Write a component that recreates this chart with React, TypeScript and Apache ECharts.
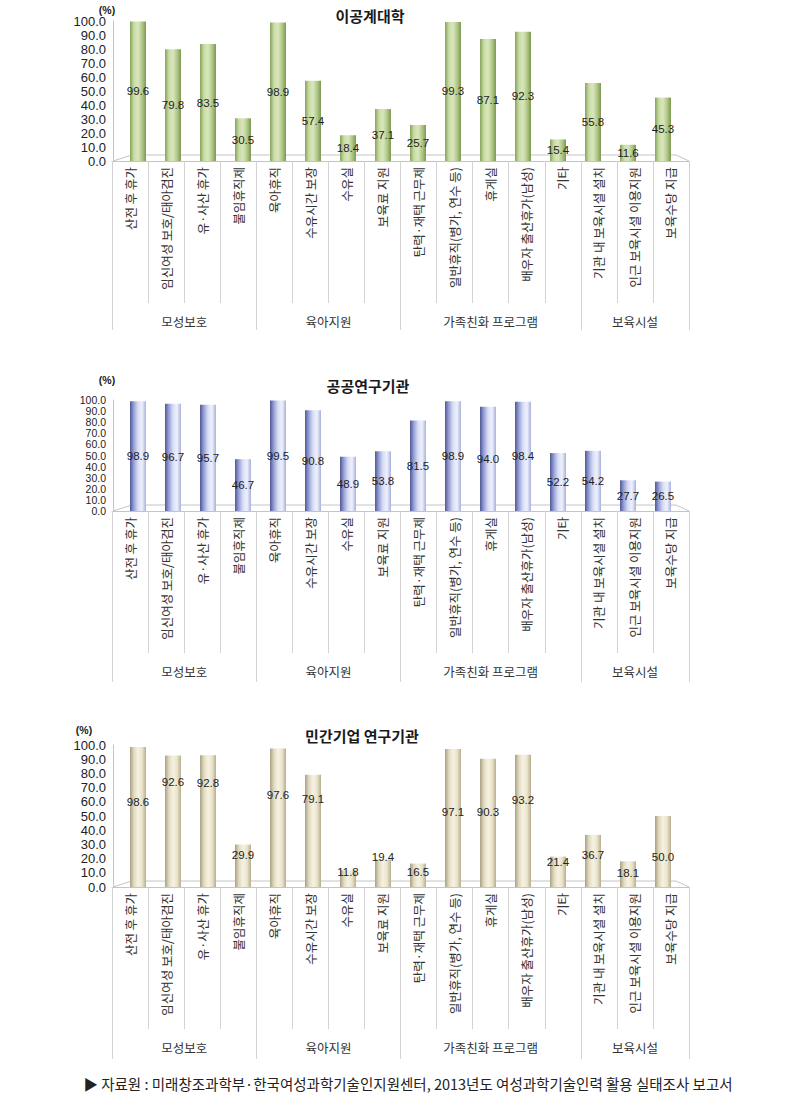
import React, { useEffect, useRef } from "react";
import * as echarts from "echarts";

const categories = [
  "산전 후 휴가",
  "임신여성 보호/태아검진",
  "유·사산 휴가",
  "불임휴직제",
  "육아휴직",
  "수유시간 보장",
  "수유실",
  "보육료 지원",
  "탄력·재택 근무제",
  "일반휴직(병가, 연수 등)",
  "휴게실",
  "배우자 출산휴가(남성)",
  "기타",
  "기관 내 보육시설 설치",
  "인근 보육시설 이용지원",
  "보육수당 지급",
];
const groups = ["모성보호", "육아지원", "가족친화 프로그램", "보육시설"];
const groupSizes = [4, 4, 5, 3];

const univValues = [99.6, 79.8, 83.5, 30.5, 98.9, 57.4, 18.4, 37.1, 25.7, 99.3, 87.1, 92.3, 15.4, 55.8, 11.6, 45.3];
const publicValues = [98.9, 96.7, 95.7, 46.7, 99.5, 90.8, 48.9, 53.8, 81.5, 98.9, 94.0, 98.4, 52.2, 54.2, 27.7, 26.5];
const privateValues = [98.6, 92.6, 92.8, 29.9, 97.6, 79.1, 11.8, 19.4, 16.5, 97.1, 90.3, 93.2, 21.4, 36.7, 18.1, 50.0];
// level (in %) where each value label of the third chart sits
const privateLabelLevel = [60, 74, 73, 22.5, 65, 62, 10.3, 21.4, 10.8, 53, 53, 61.3, 17.4, 22.5, 9.6, 21.3];

const titles = ["이공계대학", "공공연구기관", "민간기업 연구기관"];
const unitText = "(%)";
const sourceText =
  "▶ 자료원 : 미래창조과학부·한국여성과학기술인지원센터, 2013년도 여성과학기술인력 활용 실태조사 보고서";

const KR = "'Noto Sans CJK KR', 'Noto Sans', sans-serif";
const NUM = "'Liberation Sans', Arial, sans-serif";

const grad = (stops: string[]) => ({
  type: "linear",
  x: 0,
  y: 0,
  x2: 1,
  y2: 0,
  colorStops: stops.map((c, i) => ({ offset: i / (stops.length - 1), color: c })),
});

const panels = [
  {
    title: titles[0],
    values: univValues as any[],
    top: 21,
    floor: 161,
    titleX: 370,
    titleY: 15,
    unitX: 107,
    unitY: 10,
    groupTick: 169,
    yFont: 13,
    color: grad(["#86a35a", "#c9dca6", "#d9e7bd", "#b2c98a", "#7d9851"]),
  },
  {
    title: titles[1],
    values: publicValues as any[],
    top: 400,
    floor: 511,
    titleX: 368,
    titleY: 385,
    unitX: 107,
    unitY: 380,
    groupTick: 171,
    yFont: 10.5,
    color: grad(["#4f5796", "#9aa4d8", "#d9def6", "#eef1fc", "#a9b1dc"]),
  },
  {
    title: titles[2],
    values: privateValues.map((v, k) => ({
      value: v,
      label: {
        position: ["50%", `${(1 - privateLabelLevel[k] / v) * 100}%`],
        align: "center",
        verticalAlign: "middle",
      },
    })) as any[],
    top: 745,
    floor: 887,
    titleX: 362,
    titleY: 735,
    unitX: 84,
    unitY: 730,
    groupTick: 172,
    yFont: 13,
    color: grad(["#a8a084", "#e2dbc1", "#f6f2e2", "#ece5cd", "#b7ae90"]),
  },
];

// group axis: 33 points (0..16 step 0.5)
const groupAxisData: string[] = new Array(33).fill("");
const groupBoundaryIdx: number[] = [0];
{
  let start = 0;
  groups.forEach((g, i) => {
    const n = groupSizes[i];
    groupAxisData[Math.round((start + n / 2) * 2)] = g;
    start += n;
    groupBoundaryIdx.push(start * 2);
  });
}

function buildOption(): any {
  const grid: any[] = [];
  const xAxis: any[] = [];
  const yAxis: any[] = [];
  const series: any[] = [];
  const graphic: any[] = [];
  const lineColor = "#c4c4c4";

  panels.forEach((p, i) => {
    grid.push({ left: 120.5, width: 560, top: p.top, height: p.floor - p.top });
    grid.push({ left: 112, width: 577, top: p.floor - 1, height: 1 });

    xAxis.push({ type: "category", gridIndex: 2 * i, data: categories, show: false });
    xAxis.push({
      type: "category",
      gridIndex: 2 * i + 1,
      data: categories,
      position: "bottom",
      axisLine: { show: true, lineStyle: { color: lineColor } },
      axisTick: { show: true, interval: 0, length: 142, lineStyle: { color: "#d2d2d2" } },
      axisLabel: {
        interval: 0,
        rotate: 90,
        margin: 6,
        fontSize: 12.5,
        color: "#333",
        fontFamily: KR,
      },
    });
    xAxis.push({
      type: "category",
      gridIndex: 2 * i + 1,
      data: groupAxisData,
      boundaryGap: false,
      position: "bottom",
      axisLine: { show: false },
      axisTick: {
        show: true,
        interval: (idx: number) => groupBoundaryIdx.includes(idx),
        length: p.groupTick,
        lineStyle: { color: "#d2d2d2" },
      },
      axisLabel: {
        interval: (_idx: number, v: string) => v !== "",
        margin: 154,
        fontSize: 12.5,
        color: "#333",
        fontFamily: KR,
      },
    });

    yAxis.push({
      type: "value",
      gridIndex: 2 * i,
      min: 0,
      max: 100,
      interval: 10,
      offset: 7.5,
      axisLine: { show: true, lineStyle: { color: lineColor } },
      axisTick: { show: false },
      splitLine: { show: false },
      axisLabel: {
        formatter: (v: number) => v.toFixed(1),
        margin: 7,
        fontSize: p.yFont,
        lineHeight: p.yFont,
        showMinLabel: true,
        showMaxLabel: true,
        hideOverlap: false,
        color: "#222",
        fontFamily: NUM,
      },
    });
    yAxis.push({ type: "value", gridIndex: 2 * i + 1, show: false });

    series.push({
      type: "bar",
      xAxisIndex: 3 * i,
      yAxisIndex: 2 * i,
      data: p.values,
      barWidth: 16,
      itemStyle: { color: p.color },
      label: {
        show: true,
        position: "inside",
        formatter: (d: any) => Number(d.value).toFixed(1),
        fontSize: 11.5,
        color: "#222",
        fontFamily: NUM,
      },
    });

    graphic.push({
      type: "polyline",
      z: 1,
      shape: {
        points: [
          [113, p.floor],
          [132, p.floor - 6],
          [676, p.floor - 6],
          [689, p.floor],
        ],
      },
      style: { stroke: lineColor, fill: null, lineWidth: 1 },
    });
    graphic.push({
      type: "text",
      x: p.titleX,
      y: p.titleY,
      style: {
        text: p.title,
        font: `bold 15px ${KR}`,
        fill: "#1a1a1a",
        align: "center",
        verticalAlign: "middle",
      },
    });
    graphic.push({
      type: "text",
      x: p.unitX,
      y: p.unitY,
      style: {
        text: unitText,
        font: `bold 10.5px ${NUM}`,
        fill: "#222",
        align: "center",
        verticalAlign: "middle",
      },
    });
  });

  graphic.push({
    type: "text",
    x: 408,
    y: 1083,
    style: {
      text: sourceText,
      font: `14.5px ${KR}`,
      fill: "#222",
      align: "center",
      verticalAlign: "middle",
    },
  });

  return {
    animation: false,
    backgroundColor: "#ffffff",
    grid,
    xAxis,
    yAxis,
    series,
    graphic: { elements: graphic },
  };
}

export default function App() {
  const ref = useRef<HTMLDivElement>(null);
  useEffect(() => {
    if (!ref.current) return;
    const chart = echarts.init(ref.current, undefined, { renderer: "svg" });
    chart.setOption(buildOption());
    return () => chart.dispose();
  }, []);
  return (
    <div
      ref={ref}
      style={{ position: "absolute", left: 0, top: 0, width: 810, height: 1106, background: "#fff" }}
    />
  );
}
